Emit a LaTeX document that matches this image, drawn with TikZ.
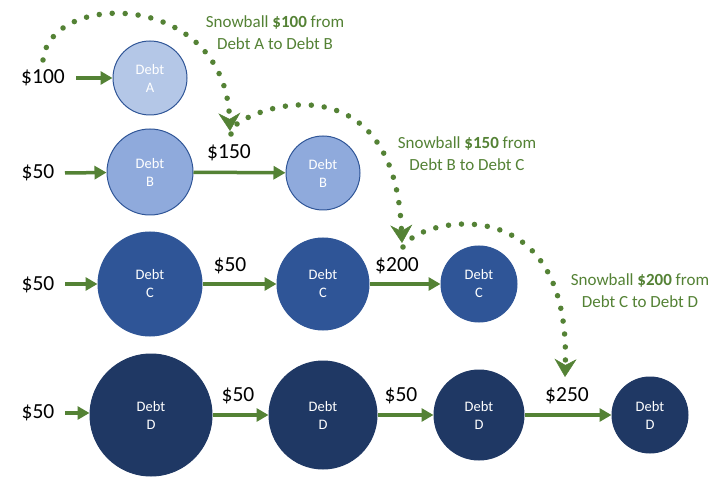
\documentclass[tikz,border=0pt]{standalone}
\usepackage{fontspec}
\setmainfont{Carlito}
\usetikzlibrary{arrows.meta}
\definecolor{gr}{HTML}{548235}
\definecolor{cA}{HTML}{B4C7E7}
\definecolor{cB}{HTML}{8FAADC}
\definecolor{cC}{HTML}{2F5597}
\definecolor{cD}{HTML}{1F3864}
\definecolor{edge}{HTML}{2F5597}
\tikzset{
 debt/.style={circle, draw=edge, line width=1pt, inner sep=0pt, text=white, align=center, font=\fontsize{14.5}{18}\selectfont},
 amt/.style={font=\fontsize{21.5}{25}\selectfont, text=black, inner sep=0pt},
 note/.style={font=\fontsize{17}{22}\selectfont, text=gr, align=center, inner sep=0pt},
 flow/.style={draw=gr, line width=3.5pt, -{Triangle[length=12pt,width=13pt]}},
 snow/.style={draw=gr, line width=5.5pt, line cap=round, dash pattern=on 0pt off 13pt, -{Stealth[length=18pt,width=22pt,inset=6pt,line width=0.5pt]}},
 enddot/.style={fill=gr},
}
\begin{document}
\begin{tikzpicture}[x=1pt,y=-1pt]
\useasboundingbox[fill=white] (0,0) rectangle (725,494);
% circles
\node[debt, fill=cA, minimum size=74pt] (A1) at (150,78) {Debt\\A};
\node[debt, fill=cB, minimum size=86pt] (B1) at (150,172) {Debt\\B};
\node[debt, fill=cB, minimum size=74pt] (B2) at (323,173) {Debt\\B};
\node[debt, fill=cC, minimum size=104pt] (C1) at (150,284) {Debt\\C};
\node[debt, fill=cC, minimum size=92pt] (C2) at (323,284) {Debt\\C};
\node[debt, fill=cC, minimum size=76pt] (C3) at (479,284) {Debt\\C};
\node[debt, fill=cD, draw=cD, minimum size=122pt] (D1) at (151,415) {Debt\\D};
\node[debt, fill=cD, draw=cD, minimum size=108pt] (D2) at (323,415) {Debt\\D};
\node[debt, fill=cD, draw=cD, minimum size=90pt] (D3) at (479,415) {Debt\\D};
\node[debt, fill=cD, draw=cD, minimum size=76pt] (D4) at (650,415) {Debt\\D};
% amount labels
\node[amt] (la) at (43,78) {\$100};
\node[amt] (lb) at (38,173) {\$50};
\node[amt] (lc) at (38,285) {\$50};
\node[amt] (ld) at (38,413) {\$50};
\node[amt] (lb2) at (229,153) {\$150};
\node[amt] (lc2) at (230,266) {\$50};
\node[amt] (lc3) at (397,266) {\$200};
\node[amt] (ld2) at (238,396) {\$50};
\node[amt] (ld3) at (401,396) {\$50};
\node[amt] (ld4) at (567,396) {\$250};
% input arrows
\coordinate (ia) at (76,78);
\coordinate (ib) at (65,173);
\coordinate (ic) at (65,284);
\coordinate (id) at (65,413);
\draw[flow] (ia) -- (A1);
\draw[flow] (ib) -- (B1);
\draw[flow] (ic) -- (C1);
\draw[flow] (id) -- (D1.west |- id);
% row arrows
\draw[flow] (B1) -- (B2);
\draw[flow] (C1) -- (C2);
\draw[flow] (C2) -- (C3);
\draw[flow] (D1) -- (D2);
\draw[flow] (D2) -- (D3);
\draw[flow] (D3) -- (D4);
% snowball arcs
\coordinate (s1) at (43,60); \coordinate (e1) at (230,131);
\coordinate (s2) at (237,124); \coordinate (e2) at (402,243);
\coordinate (s3) at (412,238); \coordinate (e3) at (565,377);
\draw[snow] (s1) .. controls (50,-10) and (225,-10) .. (e1);
\draw[snow] (s2) .. controls (270,100) and (395,70) .. (e2);
\draw[snow] (s3) .. controls (445,215) and (570,200) .. (e3);
\fill[enddot] (231,134) circle (2.8pt);
\fill[enddot] (403,247) circle (2.8pt);
% notes
\node[note] (n1) at (275,33) {Snowball \textbf{\$100} from\\Debt A to Debt B};
\node[note] (n2) at (467,154) {Snowball \textbf{\$150} from\\Debt B to Debt C};
\node[note] (n3) at (640,291) {Snowball \textbf{\$200} from\\Debt C to Debt D};
\end{tikzpicture}
\end{document}
